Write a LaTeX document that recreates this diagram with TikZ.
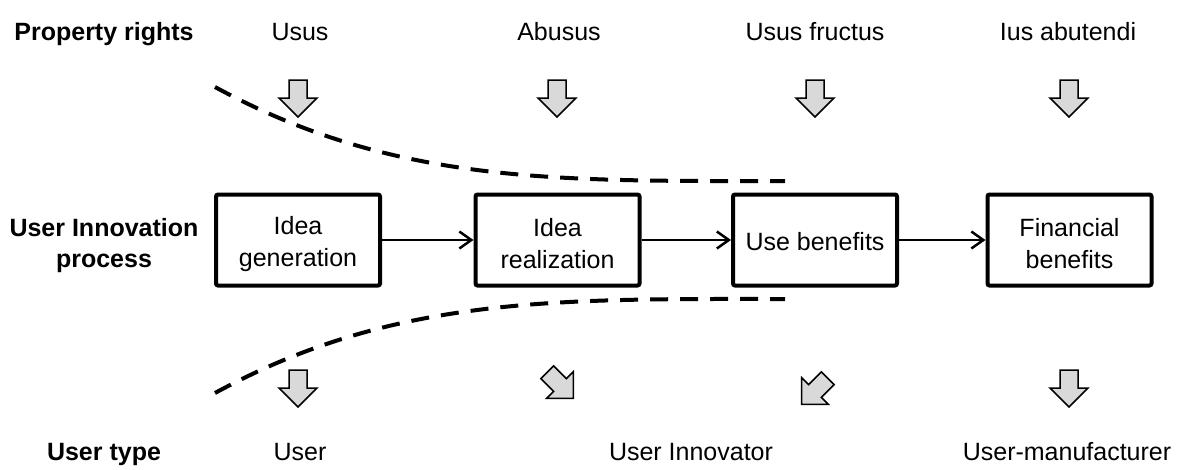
\documentclass[tikz,border=0pt]{standalone}
\usepackage{fontspec}
\setmainfont{Liberation Sans}
\usetikzlibrary{arrows.meta}
\definecolor{arrowgray}{RGB}{217,217,217}
\tikzset{
  procbox/.style={draw, line width=4pt, rounded corners=2pt, minimum width=164pt, minimum height=91pt, inner sep=0pt},
  boxtxt/.style={align=center, font=\fontsize{25}{32}\selectfont, inner sep=0pt, yshift=-4pt},
  lbl/.style={font=\fontsize{25}{31}\selectfont, anchor=base},
  blbl/.style={font=\bfseries\fontsize{25}{31}\selectfont, align=center},
  flow/.style={line width=2pt, -{Straight Barb[length=12pt,width=17pt,line width=2.5pt]}},
  bound/.style={line width=4pt, dash pattern=on 18pt off 12pt},
  blockarrow/.pic={\draw[line width=1.5pt, fill=arrowgray, line join=miter] (-9,-18) -- (9,-18) -- (9,0) -- (19,0) -- (0,19) -- (-19,0) -- (-9,0) -- cycle;}
}
\begin{document}
\begin{tikzpicture}[x=1pt,y=-1pt]
\useasboundingbox (0,0) rectangle (1181,469);
% left labels
\node[blbl, anchor=base] (lprop) at (104,40) {Property rights};
\node[blbl] (lproc) at (104,246) {User Innovation\\process};
\node[blbl, anchor=base] (ltype) at (104,460) {User type};
% top labels
\node[lbl] (usus) at (300,40) {Usus};
\node[lbl] (abusus) at (559,40) {Abusus};
\node[lbl] (fructus) at (815,40) {Usus fructus};
\node[lbl] (ius) at (1068,40) {Ius abutendi};
% bottom labels
\node[lbl] (user) at (300,460) {User};
\node[lbl] (innov) at (691,460) {User Innovator};
\node[lbl] (manuf) at (1067,460) {User-manufacturer};
% boxes
\node[procbox, label={[boxtxt]center:{Idea\\generation}}] (b1) at (298,240) {};
\node[procbox, label={[boxtxt]center:{Idea\\realization}}] (b2) at (557.5,240) {};
\node[procbox, label={[boxtxt, yshift=2pt]center:{Use benefits}}] (b3) at (815,240) {};
\node[procbox, label={[boxtxt]center:{Financial\\benefits}}] (b4) at (1069.5,240) {};
\draw[flow] (b1) -- (b2);
\draw[flow] (b2) -- (b3);
\draw[flow] (b3) -- (b4);
% dashed boundaries
\coordinate (ua) at (215,87);
\coordinate (ub) at (785,181);
\coordinate (la) at (215,393);
\coordinate (lb) at (785,299);
\draw[bound] (ua) .. controls (395,185) and (560,181) .. (ub);
\draw[bound] (la) .. controls (395,295) and (560,299) .. (lb);
% block arrows top
\pic at (298,98) {blockarrow};
\pic at (557,98) {blockarrow};
\pic at (815,98) {blockarrow};
\pic at (1069,98) {blockarrow};
% block arrows bottom
\pic at (298,388) {blockarrow};
\pic[rotate=45] at (560,385) {blockarrow};
\pic[rotate=-45] at (815,391) {blockarrow};
\pic at (1069,388) {blockarrow};
\end{tikzpicture}
\end{document}
